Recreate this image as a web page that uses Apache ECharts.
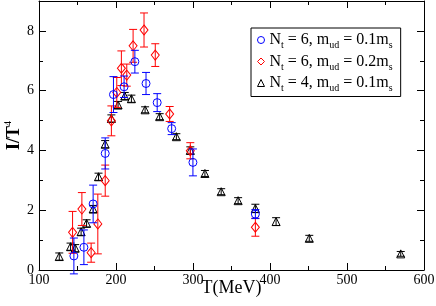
<!DOCTYPE html>
<html><head><meta charset="utf-8">
<script src="https://cdn.jsdelivr.net/npm/echarts@6/dist/echarts.min.js"></script>
<style>html,body{margin:0;padding:0;background:#fff}#c{width:436px;height:306px}</style>
</head><body><div id="c"></div>
<script>
// Nt=6, mud=0.1ms  (blue circles)
const blueT   = [145.3, 158.3, 170.3, 186.0, 196.7, 210.5, 224.5, 239.0, 253.5, 272.3, 299.9, 381.0];
const blueVal = [0.47, 0.76, 2.21, 3.90, 5.87, 6.13, 6.97, 6.24, 5.60, 4.73, 3.60, 1.87];
const blueErr = [0.60, 0.58, 0.63, 0.52, 0.60, 0.36, 0.38, 0.37, 0.30, 0.20, 0.45, 0.15];
// Nt=6, mud=0.2ms  (red diamonds)
const redT   = [143.6, 155.7, 167.7, 176.4, 186.0, 194.0, 201.0, 207.0, 214.0, 222.2, 236.4, 251.0, 269.7, 296.5, 381.0];
const redVal = [1.26, 2.04, 0.58, 1.54, 2.99, 4.99, 5.94, 6.75, 6.52, 7.50, 8.03, 7.19, 5.22, 3.99, 1.43];
const redErr = [0.70, 0.55, 0.32, 1.00, 0.52, 0.50, 0.50, 0.58, 0.37, 0.55, 0.57, 0.38, 0.25, 0.27, 0.30];
// Nt=4, mud=0.1ms  (black triangles)
const blackT   = [126.3, 141.0, 147.0, 154.7, 161.8, 170.3, 177.3, 185.9, 194.0, 202.7, 211.4, 220.0, 237.8, 256.7, 278.4, 296.5, 315.5, 336.6, 358.6, 381.0, 407.9, 451.0, 569.8];
const blackVal = [0.45, 0.78, 0.73, 1.28, 1.56, 2.04, 3.12, 4.21, 5.07, 5.52, 5.82, 5.73, 5.36, 5.13, 4.46, 4.00, 3.23, 2.62, 2.32, 2.06, 1.62, 1.06, 0.54];
const blackErr = [0.12, 0.12, 0.12, 0.12, 0.12, 0.12, 0.12, 0.12, 0.12, 0.12, 0.12, 0.12, 0.10, 0.10, 0.10, 0.12, 0.10, 0.10, 0.10, 0.14, 0.13, 0.10, 0.08];
const xTicks = [100, 200, 300, 400, 500, 600];
const yTicks = [0, 2, 4, 6, 8];
const names = ['Nt6a', 'Nt6b', 'Nt4'];

const FONT = '"Liberation Serif","DejaVu Serif",serif';
function pts(T, V, E){ return T.map((t,i)=>[t, V[i], E[i]]); }
function errSeries(data, color, z){
  return {
    type:'custom', name: 'err'+color, data, clip:false, z,
    renderItem(params, api){
      const x=api.value(0), y=api.value(1), e=api.value(2);
      const a=api.coord([x,y+e]), b=api.coord([x,y-e]);
      const w=4, st={stroke:color, lineWidth:1};
      return {type:'group', children:[
        {type:'line', shape:{x1:a[0],y1:a[1],x2:b[0],y2:b[1]}, style:st},
        {type:'line', shape:{x1:a[0]-w,y1:a[1],x2:a[0]+w,y2:a[1]}, style:st},
        {type:'line', shape:{x1:b[0]-w,y1:b[1],x2:b[0]+w,y2:b[1]}, style:st}
      ]};
    }
  };
}
function scat(name, data, color, symbol, size, z){
  return {type:'scatter', name, data, symbol, symbolSize:size, z,
    itemStyle:{color:'rgba(255,255,255,0)', borderColor:color, borderWidth:1, opacity:1},
    emphasis:{disabled:true}};
}
const sub = {fontSize:10, fontFamily:FONT, color:'#000', verticalAlign:'bottom', lineHeight:21};
const chart = echarts.init(document.getElementById('c'), null, {renderer:'canvas'});
const axisCommon = {min:100, max:600, interval:100};
chart.setOption({
  animation:false,
  grid:{left:39, right:12, top:1, bottom:36, containLabel:false, outerBoundsMode:'none'},
  xAxis:[
    {type:'value', ...axisCommon, position:'bottom',
     name:'T(MeV)', nameLocation:'middle', nameGap:9, nameMoveOverlap:false,
     nameTextStyle:{fontFamily:FONT, fontSize:18, color:'#000', verticalAlign:'top'},
     axisLine:{show:true, onZero:false, lineStyle:{color:'#000', width:1}},
     axisTick:{show:true, inside:true, length:7, lineStyle:{color:'#000'}},
     minorTick:{show:true, splitNumber:2, length:4, lineStyle:{color:'#000'}},
     axisLabel:{fontFamily:FONT, fontSize:14, color:'#000', margin:3,
       formatter:v=> xTicks.includes(v)? String(v):''},
     splitLine:{show:false}},
    {type:'value', ...axisCommon, position:'top',
     axisLine:{show:true, onZero:false, lineStyle:{color:'#000', width:1}},
     axisTick:{show:true, inside:true, length:7, lineStyle:{color:'#000'}},
     minorTick:{show:true, splitNumber:2, length:4, lineStyle:{color:'#000'}},
     axisLabel:{show:false}, splitLine:{show:false}}
  ],
  yAxis:[
    {type:'value', min:0, max:9, interval:2, position:'left',
     name:'{a|I/T}{s|4}', nameLocation:'middle', nameGap:14, nameMoveOverlap:false,
     nameTextStyle:{rich:{a:{fontFamily:FONT, fontSize:18, color:'#000', fontWeight:'bold', lineHeight:22},
                          s:{fontFamily:FONT, fontSize:10, color:'#000', verticalAlign:'top', lineHeight:22}}},
     axisLine:{show:true, onZero:false, lineStyle:{color:'#000', width:1}},
     axisTick:{show:true, inside:true, length:7, lineStyle:{color:'#000'}},
     minorTick:{show:true, splitNumber:2, length:4, lineStyle:{color:'#000'}},
     axisLabel:{fontFamily:FONT, fontSize:14, color:'#000', margin:5,
       formatter:v=> yTicks.includes(v)? String(v):''},
     splitLine:{show:false}},
    {type:'value', min:0, max:9, interval:2, position:'right',
     axisLine:{show:true, onZero:false, lineStyle:{color:'#000', width:1}},
     axisTick:{show:true, inside:true, length:7, lineStyle:{color:'#000'}},
     minorTick:{show:true, splitNumber:2, length:4, lineStyle:{color:'#000'}},
     axisLabel:{show:false}, splitLine:{show:false}}
  ],
  legend:{
    data:names, orient:'vertical', left:251, top:28,
    itemWidth:7, itemHeight:7, itemGap:3,
    itemStyle:{borderWidth:1, color:'rgba(255,255,255,0)'},
    padding:[4,8,3,6], borderColor:'#000', borderWidth:1, backgroundColor:'#fff',
    selectedMode:false,
    formatter:function(n){
      if(n==='Nt6a') return '{m|N}{s|t}{m| = 6, m}{s|ud}{m| = 0.1m}{s|s}';
      if(n==='Nt6b') return '{m|N}{s|t}{m| = 6, m}{s|ud}{m| = 0.2m}{s|s}';
      return '{m|N}{s|t}{m| = 4, m}{s|ud}{m| = 0.1m}{s|s}';
    },
    textStyle:{rich:{m:{fontFamily:FONT, fontSize:16, color:'#000', lineHeight:21}, s:sub}}
  },
  series:[
    errSeries(pts(blackT,blackVal,blackErr), '#000000', 2),
    scat('Nt4', pts(blackT,blackVal,blackErr), '#000000', 'triangle', 8, 3),
    errSeries(pts(redT,redVal,redErr), '#ff0000', 4),
    scat('Nt6b', pts(redT,redVal,redErr), '#ff0000', 'diamond', [8,10], 5),
    errSeries(pts(blueT,blueVal,blueErr), '#0000ff', 6),
    scat('Nt6a', pts(blueT,blueVal,blueErr), '#0000ff', 'circle', 8, 7)
  ]
});
</script></body></html>
